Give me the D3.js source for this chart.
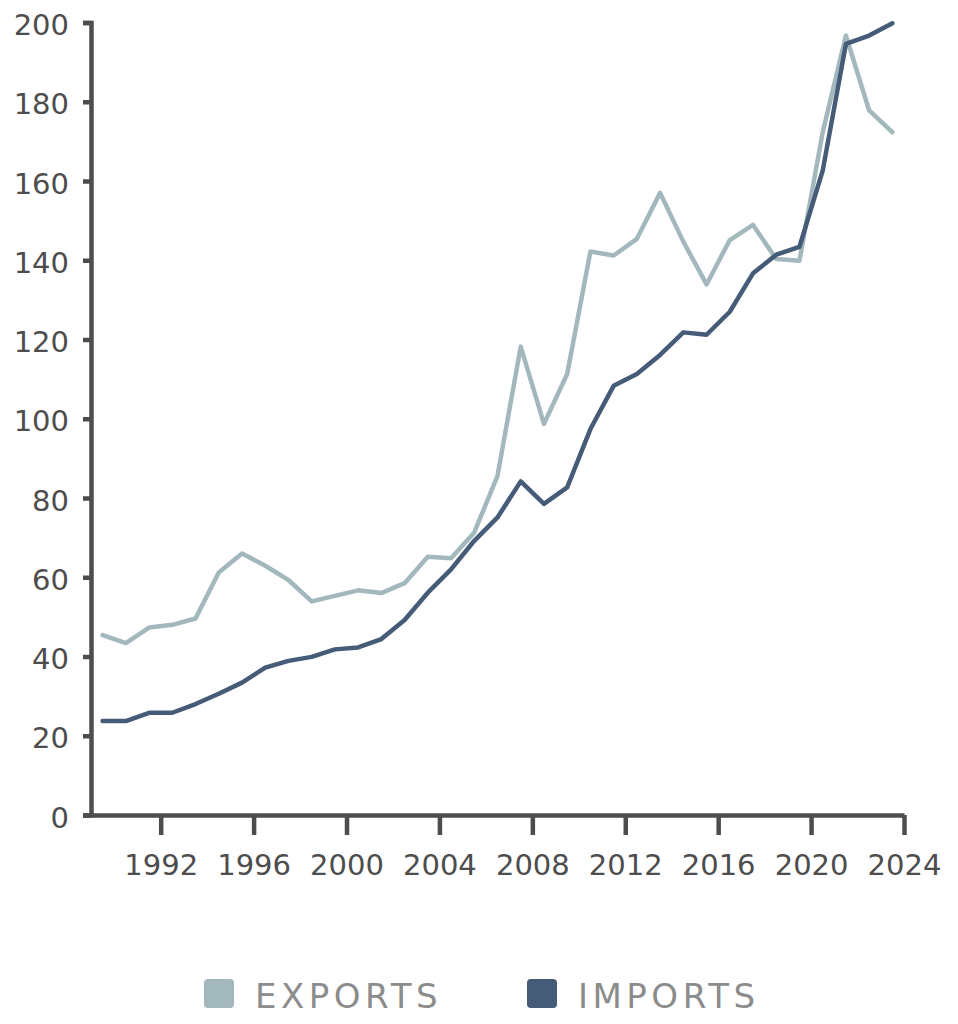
<!DOCTYPE html>
<html>
<head>
<meta charset="utf-8">
<script src="https://cdn.jsdelivr.net/npm/d3@7"></script>
<style>
  body { margin: 0; background: #fff; }
  svg text { font-family: "DejaVu Sans", sans-serif; }
</style>
</head>
<body>
<div id="chart"></div>
<script>
var width = 958;
var height = 1024;

// yearly values, plotted at mid-year
var years = d3.range(1989, 2024);
var exportsData = [45.4, 43.4, 47.3, 48.0, 49.6, 61.2, 66.0, 62.9, 59.3, 53.9,
                   55.3, 56.7, 56.0, 58.5, 65.2, 64.8, 71.3, 85.6, 118.2, 98.7,
                   111.3, 142.2, 141.2, 145.4, 157.0, 144.7, 133.9, 145.1, 148.9, 140.3,
                   139.9, 172.3, 196.7, 177.8, 172.3];
var importsData = [23.7, 23.7, 25.8, 25.8, 28.0, 30.6, 33.4, 37.2, 38.9, 39.9,
                   41.8, 42.3, 44.4, 49.2, 56.1, 62.0, 69.2, 75.1, 84.2, 78.5,
                   82.7, 97.4, 108.3, 111.3, 116.1, 121.8, 121.2, 127.0, 136.7, 141.4,
                   143.4, 162.6, 194.6, 196.7, 199.8];
var xTicks = [1992, 1996, 2000, 2004, 2008, 2012, 2016, 2020, 2024];
var yTicks = [0, 20, 40, 60, 80, 100, 120, 140, 160, 180, 200];
var seriesNames = ["EXPORTS", "IMPORTS"];
var seriesColors = ["#a3b8bd", "#455b78"];

var axisColor = "#4d4d4d";
var fontFamily = "'DejaVu Sans', sans-serif";

var svg = d3.select("#chart")
            .append("svg")
            .attr("width", width)
            .attr("height", height)
            .style("display", "block");

var x = d3.scaleLinear()
          .domain([1989, 2024])
          .range([91, 904]);

var y = d3.scaleLinear()
          .domain([0, 200])
          .range([815, 22.5]);

var xAxis = svg.append("g")
               .attr("transform", "translate(0," + y(0) + ")")
               .call(d3.axisBottom(x)
                       .tickValues(xTicks)
                       .tickFormat(d3.format("d"))
                       .tickSize(20)
                       .tickSizeOuter(0)
                       .tickPadding(19));

var yAxis = svg.append("g")
               .attr("transform", "translate(" + x(1989) + ",0)")
               .call(d3.axisLeft(y)
                       .tickValues(yTicks)
                       .tickSize(8)
                       .tickSizeOuter(8)
                       .tickPadding(14));

[xAxis, yAxis].forEach(function(g) {
    g.attr("font-family", fontFamily).attr("font-size", 29);
    g.selectAll("path, line")
     .attr("stroke", axisColor)
     .attr("stroke-width", 4.5);
    g.selectAll("text")
     .attr("fill", axisColor);
});
yAxis.selectAll("text").attr("dy", "0.42em");

var lineGenerator = d3.line()
                      .x((d, i) => x(years[i] + 0.5))
                      .y(d => y(d));

[exportsData, importsData].forEach(function(data, k) {
    svg.append("path")
       .attr("d", lineGenerator(data))
       .attr("fill", "none")
       .attr("stroke", seriesColors[k])
       .attr("stroke-width", 4.5)
       .attr("stroke-linejoin", "round")
       .attr("stroke-linecap", "round");
});

// legend
var legendX = [204, 527];
var legend = svg.selectAll(".legend")
                .data(seriesNames)
                .enter()
                .append("g")
                .attr("class", "legend")
                .attr("transform", (d, i) => "translate(" + legendX[i] + ",979)");

legend.append("rect")
      .attr("width", 30)
      .attr("height", 29)
      .attr("rx", 4)
      .attr("fill", (d, i) => seriesColors[i]);

legend.append("text")
      .attr("x", 51)
      .attr("y", 29)
      .attr("fill", "#8c8c8c")
      .attr("font-family", fontFamily)
      .attr("font-size", 34)
      .style("letter-spacing", "4.5px")
      .text(d => d);
</script>
</body>
</html>
